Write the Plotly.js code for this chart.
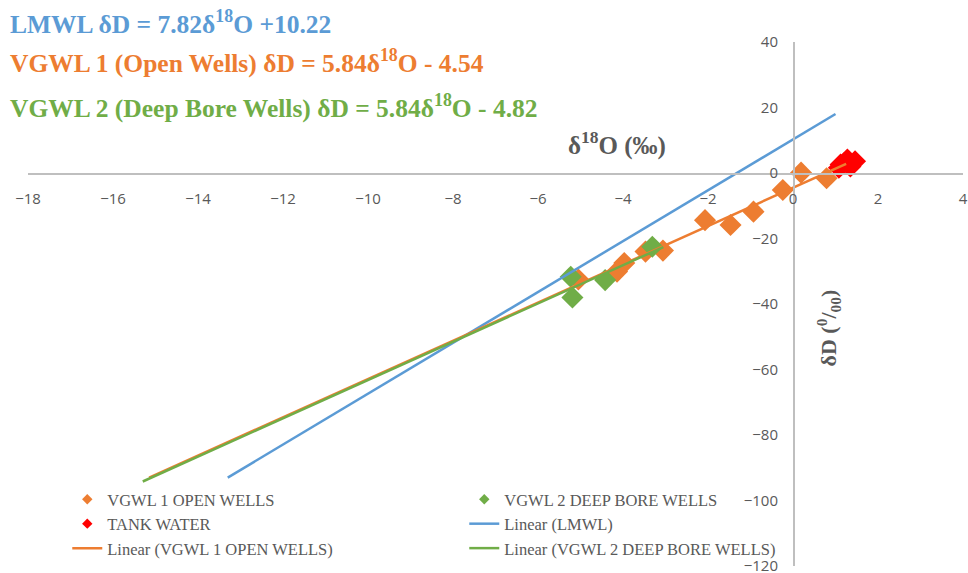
<!DOCTYPE html>
<html>
<head>
<meta charset="utf-8">
<script src="https://cdn.plot.ly/plotly-3.0.1.min.js"></script>
<style>html,body{margin:0;padding:0;background:#fff;}#chart{width:968px;height:573px;}</style>
</head>
<body>
<div id="chart"></div>
<script>
// Sample data (δ18O ‰, δD ‰)
var openX = [0.19, 0.79, -0.24, -0.93, -1.47, -2.07, -3.06, -3.47, -3.97, -4.14, -5.05];
var openY = [0.1, -1.6, -5.2, -11.8, -15.9, -14.4, -23.7, -24.0, -27.5, -30.1, -32.5];
var deepX = [-5.23, -5.19, -4.42, -3.31];
var deepY = [-31.7, -38.0, -32.7, -22.5];
var tankX = [1.08, 1.12, 1.28, 1.46, 1.2, 1.35];
var tankY = [1.6, 2.6, 4.1, 3.6, 3.0, 2.0];

// Trend line end points
var lmwlX = [-13.3, 1.0];
var lmwlY = [-93.0, 18.0];
var openLineX = [-15.15, 1.25];
var openLineY = [-93.0, 2.8];
var deepLineX = [-15.3, -3.05];
var deepLineY = [-94.2, -22.6];

var names = ['VGWL 1 OPEN WELLS', 'VGWL 2 DEEP BORE WELLS', 'TANK WATER',
             'Linear (LMWL)', 'Linear (VGWL 1 OPEN WELLS)', 'Linear (VGWL 2 DEEP BORE WELLS)'];
var equations = ['LMWL δD = 7.82δ<sup>18</sup>O +10.22',
                 'VGWL 1 (Open Wells) δD = 5.84δ<sup>18</sup>O - 4.54',
                 'VGWL 2 (Deep Bore Wells) δD = 5.84δ<sup>18</sup>O - 4.82'];

var cOrange = '#ed7d31', cGreen = '#70ad47', cRed = '#ff0000', cBlue = '#5b9bd5';
var mSize = 17, legSize = 8;

function proxy(name, color) {
  return {x: [null], y: [null], type: 'scatter', mode: 'markers', name: name,
          marker: {symbol: 'diamond', size: legSize, color: color}, hoverinfo: 'skip'};
}
function pts(x, y, name, color) {
  return {x: x, y: y, type: 'scatter', mode: 'markers', name: name, showlegend: false,
          marker: {symbol: 'diamond', size: mSize, color: color}};
}
function line(x, y, name, color) {
  return {x: x, y: y, type: 'scatter', mode: 'lines', name: name,
          line: {color: color, width: 2.5}};
}

var data = [
  proxy(names[0], cOrange),
  proxy(names[1], cGreen),
  proxy(names[2], cRed),
  pts(openX, openY, names[0], cOrange),
  pts(deepX, deepY, names[1], cGreen),
  pts(tankX, tankY, names[2], cRed),
  line(lmwlX, lmwlY, names[3], cBlue),
  line(openLineX, openLineY, names[4], cOrange),
  line(deepLineX, deepLineY, names[5], cGreen)
];

var tickFont = {family: 'Open Sans, sans-serif', size: 15, color: '#595959'};
var serif = 'Liberation Serif, Times New Roman, serif';

var layout = {
  width: 968, height: 573,
  margin: {l: 28, r: 5, t: 42, b: 7},
  paper_bgcolor: '#ffffff', plot_bgcolor: '#ffffff',
  showlegend: true,
  xaxis: {
    range: [-18, 4], tick0: 0, dtick: 2, showgrid: false, zeroline: false,
    showline: true, linecolor: '#bfbfbf', linewidth: 1.5,
    anchor: 'free', position: 0.75, ticks: '', ticklabelstandoff: 11,
    ticklabeloverflow: 'allow', tickfont: tickFont
  },
  yaxis: {
    range: [-120, 40], tick0: 0, dtick: 20, showgrid: false, zeroline: false,
    showline: true, linecolor: '#bfbfbf', linewidth: 1.5,
    anchor: 'free', position: 18 / 22, ticks: '', ticklabelstandoff: 12,
    ticklabeloverflow: 'allow', tickfont: tickFont
  },
  legend: {
    orientation: 'h', x: 0.042, y: 0, xanchor: 'left', yanchor: 'bottom',
    entrywidth: 352, entrywidthmode: 'pixels',
    font: {family: serif, size: 16.5, color: '#595959'},
    bgcolor: 'rgba(0,0,0,0)'
  },
  annotations: [
    {text: '<b>' + equations[0] + '</b>', xref: 'paper', yref: 'paper', x: -0.021, y: 1.038,
     xanchor: 'left', yanchor: 'middle', showarrow: false, font: {family: serif, size: 25.5, color: cBlue}},
    {text: '<b>' + equations[1] + '</b>', xref: 'paper', yref: 'paper', x: -0.021, y: 0.962,
     xanchor: 'left', yanchor: 'middle', showarrow: false, font: {family: serif, size: 25.5, color: cOrange}},
    {text: '<b>' + equations[2] + '</b>', xref: 'paper', yref: 'paper', x: -0.021, y: 0.877,
     xanchor: 'left', yanchor: 'middle', showarrow: false, font: {family: serif, size: 25.5, color: cGreen}},
    {text: '<b>δ<sup>18</sup>O (‰)</b>', xref: 'paper', yref: 'paper', x: 0.63, y: 0.807,
     xanchor: 'center', yanchor: 'middle', showarrow: false, font: {family: serif, size: 25, color: '#595959'}},
    {text: '<b>δD (<sup>0</sup>/<sub>00</sub>)</b>', xref: 'paper', yref: 'paper', x: 0.856, y: 0.454,
     xanchor: 'center', yanchor: 'middle', textangle: -90, showarrow: false,
     font: {family: serif, size: 22, color: '#595959'}}
  ]
};

Plotly.newPlot('chart', data, layout, {displayModeBar: false, staticPlot: true});
</script>
</body>
</html>
